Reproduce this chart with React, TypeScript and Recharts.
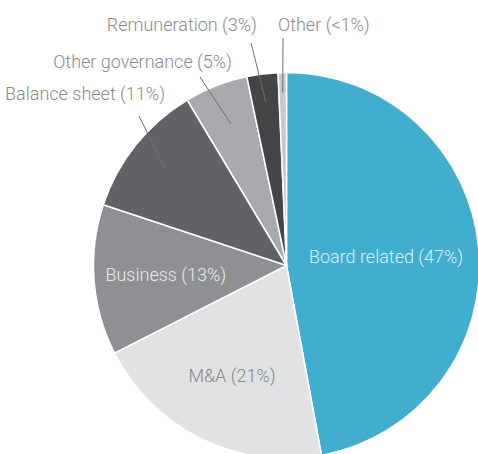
import React from "react";
import { PieChart, Pie, Cell } from "recharts";

const categories = [
  "Board related",
  "M&A",
  "Business",
  "Balance sheet",
  "Other governance",
  "Remuneration",
  "Other",
];
const values = [47.1, 20.4, 12.6, 11.3, 5.3, 2.6, 0.7];
const percentLabels = ["47%", "21%", "13%", "11%", "5%", "3%", "<1%"];
const colors = ["#42AECF", "#E1E2E4", "#8F9093", "#616265", "#A9AAAD", "#454548", "#C7C8CA"];

type LabelLayout =
  | { kind: "inside"; r: number; color: string }
  | {
      kind: "outside";
      lineR: number;
      endDx: number;
      endDy: number;
      textDx: number;
      textDy: number;
      anchor: "start" | "end";
    };

const labelLayout: LabelLayout[] = [
  { kind: "inside", r: 100, color: "#DDF0F6" },
  { kind: "inside", r: 123, color: "#86878A" },
  { kind: "inside", r: 121, color: "#E9E9EA" },
  { kind: "outside", lineR: 156, endDx: -147.5, endDy: -149.5, textDx: -121.5, textDy: -172.5, anchor: "end" },
  { kind: "outside", lineR: 152, endDx: -86.5, endDy: -188.5, textDx: -54.5, textDy: -204.5, anchor: "end" },
  { kind: "outside", lineR: 165, endDx: -35.5, endDy: -222.5, textDx: -29.5, textDy: -241.5, anchor: "end" },
  { kind: "outside", lineR: 173, endDx: -3.5, endDy: -227.5, textDx: -8.5, textDy: -241.5, anchor: "start" },
];

const data = categories.map((name, i) => ({ name, value: values[i], pct: percentLabels[i] }));

const RAD = Math.PI / 180;
const FONT = "Roboto, 'Helvetica Neue', Arial, sans-serif";
const FONT_SIZE = 18;

const renderLabel = (props: any) => {
  const { cx, cy, midAngle, index } = props;
  const layout = labelLayout[index];
  const text = `${categories[index]} (${percentLabels[index]})`;
  if (layout.kind === "inside") {
    const x = cx + layout.r * Math.cos(-midAngle * RAD);
    const y = cy + layout.r * Math.sin(-midAngle * RAD);
    return (
      <text
        x={x}
        y={y}
        fill={layout.color}
        textAnchor="middle"
        dominantBaseline="central"
        fontFamily={FONT}
        fontWeight={300}
        fontSize={FONT_SIZE}
      >
        {text}
      </text>
    );
  }
  const sx = cx + layout.lineR * Math.cos(-midAngle * RAD);
  const sy = cy + layout.lineR * Math.sin(-midAngle * RAD);
  return (
    <g>
      <line x1={sx} y1={sy} x2={cx + layout.endDx} y2={cy + layout.endDy} stroke="#6E6F72" strokeWidth={1} />
      <text
        x={cx + layout.textDx}
        y={cy + layout.textDy}
        fill="#8A8B8E"
        textAnchor={layout.anchor}
        dominantBaseline="central"
        fontFamily={FONT}
        fontWeight={300}
        fontSize={FONT_SIZE}
      >
        {text}
      </text>
    </g>
  );
};

export default function App() {
  return (
    <div style={{ position: "absolute", left: 0, top: 0, width: 478, height: 454, background: "#fff" }}>
      <PieChart width={478} height={454} margin={{ top: 0, right: 0, bottom: 0, left: 0 }}>
        <Pie
          data={data}
          dataKey="value"
          nameKey="name"
          cx={286.5}
          cy={265.5}
          outerRadius={193}
          startAngle={90}
          endAngle={-270}
          stroke="#FFFFFF"
          strokeWidth={1.5}
          label={renderLabel}
          labelLine={false}
          isAnimationActive={false}
        >
          {data.map((d, i) => (
            <Cell key={d.name} fill={colors[i]} />
          ))}
        </Pie>
      </PieChart>
    </div>
  );
}
